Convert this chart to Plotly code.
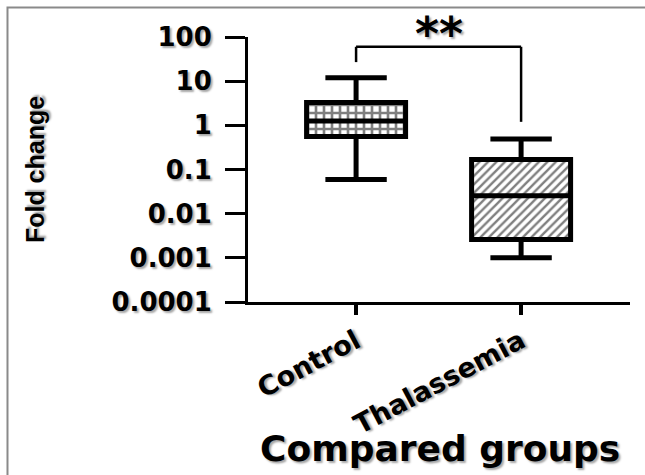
import plotly.graph_objects as go

# Fold-change distribution per group (box-plot summary statistics)
groups = ["Control", "Thalassemia"]
lower_whisker = [0.059, 0.001]
q1_values = [0.56, 0.0026]
median_values = [1.25, 0.0255]
q3_values = [3.3, 0.168]
upper_whisker = [12.0, 0.49]
fill_patterns = ["+", "/"]
pattern_sizes = [8, 6]
pattern_solidity = [0.55, 0.4]

# Log-scale tick labels
y_tickvals = [1e-4, 1e-3, 1e-2, 1e-1, 1, 10, 100]
y_ticktext = ["0.0001", "0.001", "0.01", "0.1", "1", "10", "100"]

# Axis titles
x_title = "Compared groups"
y_title = "Fold change"

# Significance bracket between the two groups
sig_label = "**"
bracket_top = 60
bracket_left_end = 27
bracket_right_end = 1.2

shadow = "2px 2px 2px rgba(0,0,0,0.35)"
bold_font = dict(family="DejaVu Sans", color="black", weight="bold", shadow=shadow)

fig = go.Figure()

# Hatched interior of each box (from Q1 up to Q3)
fig.add_trace(go.Bar(
    x=groups,
    base=q1_values,
    y=[hi - lo for lo, hi in zip(q1_values, q3_values)],
    width=0.6,
    marker=dict(
        color="white",
        line=dict(width=0),
        pattern=dict(shape=fill_patterns, fgcolor="black", bgcolor="white",
                     size=pattern_sizes, solidity=pattern_solidity),
    ),
    hoverinfo="skip",
    showlegend=False,
))

# Box outlines, medians and min-max whiskers
fig.add_trace(go.Box(
    x=groups,
    lowerfence=lower_whisker,
    q1=q1_values,
    median=median_values,
    q3=q3_values,
    upperfence=upper_whisker,
    width=0.6,
    whiskerwidth=0.62,
    line=dict(color="black", width=5),
    fillcolor="rgba(0,0,0,0)",
    boxpoints=False,
    hoverinfo="skip",
    showlegend=False,
))

# Significance bracket
bracket_line = dict(color="black", width=2.5)
fig.add_shape(type="line", xref="x", yref="y", x0=0, x1=1,
              y0=bracket_top, y1=bracket_top, line=bracket_line)
fig.add_shape(type="line", xref="x", yref="y", x0=0, x1=0,
              y0=bracket_left_end, y1=bracket_top, line=bracket_line)
fig.add_shape(type="line", xref="x", yref="y", x0=1, x1=1,
              y0=bracket_right_end, y1=bracket_top, line=bracket_line)
fig.add_annotation(text=sig_label, x=0.5, xref="x", y=1.01, yref="paper",
                   yanchor="middle", showarrow=False,
                   font=dict(bold_font, size=46))

# X-axis title placed under the rotated category labels
fig.add_annotation(text=x_title, x=0.503, xref="paper", y=-0.552, yref="paper",
                   xanchor="center", yanchor="middle", showarrow=False,
                   font=dict(bold_font, size=36))

# Frame around the figure
fig.add_shape(type="rect", xref="paper", yref="paper",
              x0=-0.6296, x1=1.06, y0=-0.70, y1=1.1113,
              line=dict(color="#8a8a8a", width=2), layer="below")

fig.update_layout(
    width=645,
    height=475,
    margin=dict(l=248, r=15, t=37, b=173),
    paper_bgcolor="white",
    plot_bgcolor="white",
    bargap=0,
    xaxis=dict(
        type="category",
        range=[-0.655, 1.66],
        automargin=False,
        showline=True, linewidth=3, linecolor="black",
        ticks="outside", ticklen=10, tickwidth=4, tickcolor="black",
        tickangle=-28,
        tickfont=dict(bold_font, size=27),
        showgrid=False, zeroline=False,
    ),
    yaxis=dict(
        type="log",
        range=[-4, 2],
        automargin=False,
        tickvals=y_tickvals,
        ticktext=y_ticktext,
        showline=True, linewidth=3, linecolor="black",
        ticks="outside", ticklen=20, tickwidth=3, tickcolor="black",
        ticklabelstandoff=8,
        tickfont=dict(bold_font, size=26),
        showgrid=False, zeroline=False,
        title=dict(text=y_title, standoff=60,
                   font=dict(family="Liberation Sans", size=25,
                             weight="bold", color="black", shadow=shadow)),
    ),
)

fig.write_html("out.html")
